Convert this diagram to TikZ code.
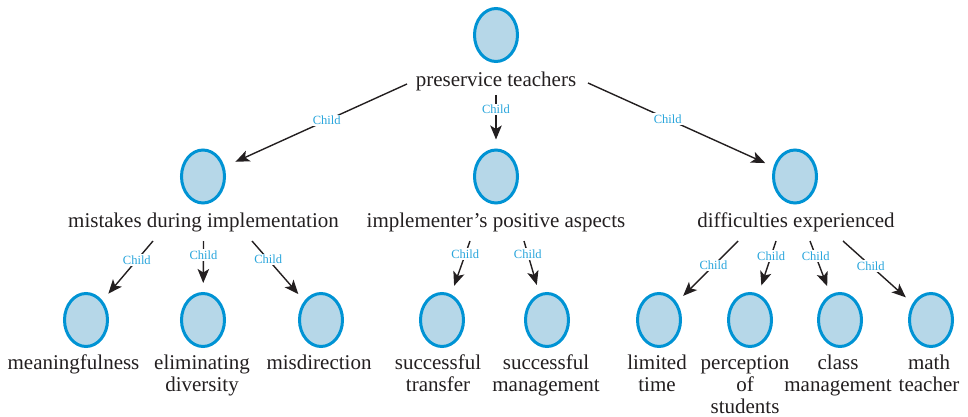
\documentclass[tikz,border=0pt]{standalone}
\usepackage{fontspec}
\setmainfont{Liberation Serif}
\usetikzlibrary{shapes.geometric,arrows.meta,calc}
\definecolor{ringblue}{RGB}{0,147,212}
\definecolor{fillblue}{RGB}{182,215,232}
\definecolor{childblue}{RGB}{40,165,220}
\definecolor{ink}{RGB}{35,31,32}
\newcommand{\stacktext}[1]{\begin{tabular}[t]{@{}c@{}}#1\end{tabular}}
\begin{document}
\begin{tikzpicture}[x=1pt,y=-1pt,
  leaf/.style={ellipse, draw=ringblue, fill=fillblue, line width=3pt,
    minimum width=43pt, minimum height=53pt, inner sep=0pt},
  lbl/.style={anchor=base, inner sep=0pt, text=ink, font=\fontsize{21}{22}\selectfont},
  edge/.style={draw=ink, line width=1.4pt,
    -{Stealth[length=14pt,width=11.5pt,inset=3.5pt]}, shorten >=9pt},
  childlbl/.style={fill=white, inner sep=1.5pt, text=childblue,
    font=\fontsize{12.5}{13}\selectfont}
]
\useasboundingbox (0,0) rectangle (968,417);

% ellipses
\node[leaf] (e1) at (496,35) {};
\node[leaf] (e2a) at (203,176.5) {};
\node[leaf] (e2b) at (496,176.5) {};
\node[leaf] (e2c) at (795,176.5) {};
\node[leaf] (e3a) at (86,320) {};
\node[leaf] (e3b) at (203,320) {};
\node[leaf] (e3c) at (321,320) {};
\node[leaf] (e3d) at (442,320) {};
\node[leaf] (e3e) at (547,320) {};
\node[leaf] (e3f) at (659,320) {};
\node[leaf] (e3g) at (750,320) {};
\node[leaf] (e3h) at (840,320) {};
\node[leaf] (e3i) at (931,320) {};

% labels
\node[lbl] (l1) at (496,87) {preservice teachers};
\node[lbl] (l2a) at (203.5,227) {mistakes during implementation};
\node[lbl] (l2b) at (496,227) {implementer’s positive aspects};
\node[lbl] (l2c) at (796,227) {difficulties experienced};
\node[lbl] (l3a) at (73.5,369) {meaningfulness};
\node[lbl] (l3b) at (202,369) {\stacktext{eliminating\\diversity}};
\node[lbl] (l3c) at (319,369) {misdirection};
\node[lbl] (l3d) at (438,369) {\stacktext{successful\\transfer}};
\node[lbl] (l3e) at (546,369) {\stacktext{successful\\management}};
\node[lbl] (l3f) at (657,369) {\stacktext{limited\\time}};
\node[lbl] (l3g) at (745,369) {\stacktext{perception\\of\\students}};
\node[lbl] (l3h) at (838,369) {\stacktext{class\\management}};
\node[lbl] (l3i) at (929,369) {\stacktext{math\\teacher}};

% edges level 1 -> 2
\draw[edge, shorten >=12pt] ($(l1.base)+(-89,-3)$) -- node[childlbl,pos=0.44]{Child} (e2a);
\draw[edge] ($(l1.base)+(0,8)$) -- node[childlbl,pos=0.27]{Child} (e2b);
\draw[edge] ($(l1.base)+(92,-4)$) -- node[childlbl,pos=0.43]{Child} (e2c);

% edges level 2 -> 3
\draw[edge] ($(l2a.base)+(-50.5,14)$) -- node[childlbl,pos=0.32]{Child} (e3a);
\draw[edge] ($(l2a.base)+(0,14)$) -- node[childlbl,pos=0.27]{Child} (e3b);
\draw[edge] ($(l2a.base)+(48.5,14)$) -- node[childlbl,pos=0.31]{Child} (e3c);
\draw[edge] ($(l2b.base)+(-26,14)$) -- node[childlbl,pos=0.25]{Child} (e3d);
\draw[edge] ($(l2b.base)+(28,14)$) -- node[childlbl,pos=0.25]{Child} (e3e);
\draw[edge] ($(l2c.base)+(-58,14)$) -- node[childlbl,pos=0.4]{Child} (e3f);
\draw[edge] ($(l2c.base)+(-20,14)$) -- node[childlbl,pos=0.28]{Child} (e3g);
\draw[edge] ($(l2c.base)+(14,14)$) -- node[childlbl,pos=0.28]{Child} (e3h);
\draw[edge] ($(l2c.base)+(47,14)$) -- node[childlbl,pos=0.4]{Child} (e3i);
\end{tikzpicture}
\end{document}
